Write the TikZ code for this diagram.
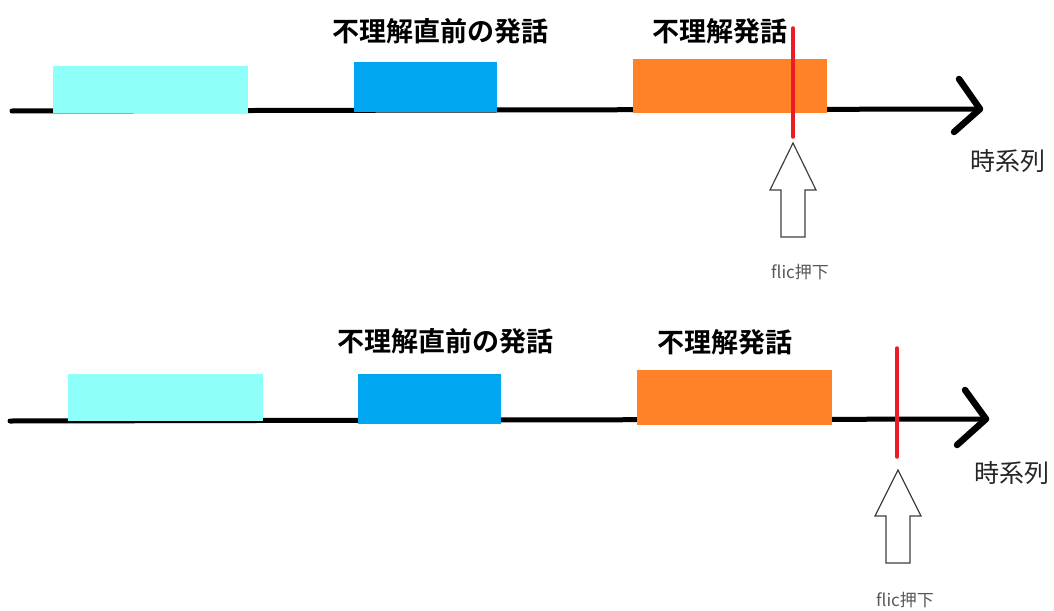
\documentclass[tikz,border=0pt]{standalone}
\usepackage{fontspec}
\setmainfont{Noto Sans CJK JP}[BoldFont={Noto Sans CJK JP Bold}]
\definecolor{cyanbox}{HTML}{8FFFF9}
\definecolor{bluebox}{HTML}{00A6EF}
\definecolor{orangebox}{HTML}{FF8228}
\definecolor{redmark}{HTML}{ED1C24}
\definecolor{graytext}{HTML}{595959}
\definecolor{arrowline}{HTML}{404040}
\tikzset{
  axisline/.style={line width=5pt, black, line cap=round, line join=round},
  chevron/.style={line width=6.5pt, black, line cap=round, line join=round},
  seg/.style={draw=none, inner sep=0pt, anchor=south west},
  redbar/.style={line width=3.5pt, redmark, line cap=round},
  hollow/.style={draw=arrowline, line width=1.2pt, fill=white, line join=miter},
  lbl/.style={font=\bfseries\fontsize{27}{31}\selectfont, inner sep=0pt},
  axislbl/.style={font=\fontsize{25}{29}\selectfont, inner sep=0pt, text=black!85},
  flic/.style={font=\fontsize{17}{20}\selectfont, inner sep=0pt, text=graytext}
}
\begin{document}
\begin{tikzpicture}[x=1pt, y=-1pt]
\path[use as bounding box, fill=white] (0,0) rectangle (1054,610);

% ---------- top timeline ----------
\coordinate (a1s) at (12,111);
\coordinate (a1t) at (980,109);
\coordinate (a1u) at (959,79);
\coordinate (a1d) at (954,132);
\draw[axisline] (a1s) -- (a1t);
\draw[chevron] (a1u) -- (a1t) -- (a1d);

\node[seg, fill=cyanbox, minimum width=195pt, minimum height=47pt] (c1) at (53,113) {};
\node[seg, fill=bluebox, minimum width=143pt, minimum height=50pt] (b1) at (354,112) {};
\node[seg, fill=orangebox, minimum width=194pt, minimum height=54pt] (o1) at (633,113) {};

\node[lbl] (l1a) at (440,31) {不理解直前の発話};
\node[lbl] (l1b) at (720,31) {不理解発話};

\coordinate (r1t) at (793,28);
\coordinate (r1b) at (793,137);
\draw[redbar] (r1t) -- (r1b);

\coordinate (h1) at (793,143);
\draw[hollow] (h1) -- ++(23,47) -- ++(-11,0) -- ++(0,47) -- ++(-24,0) -- ++(0,-47) -- ++(-11,0) -- cycle;

\node[axislbl] (t1) at (1008,161) {時系列};
\node[flic] (f1) at (800,272) {flic押下};

% ---------- bottom timeline ----------
\coordinate (a2s) at (10,421);
\coordinate (a2t) at (986,419);
\coordinate (a2u) at (965,390);
\coordinate (a2d) at (957,445);
\draw[axisline] (a2s) -- (a2t);
\draw[chevron] (a2u) -- (a2t) -- (a2d);

\node[seg, fill=cyanbox, minimum width=195pt, minimum height=47pt] (c2) at (68,421) {};
\node[seg, fill=bluebox, minimum width=143pt, minimum height=50pt] (b2) at (358,424) {};
\node[seg, fill=orangebox, minimum width=195pt, minimum height=55pt] (o2) at (637,425) {};

\node[lbl] (l2a) at (445,341) {不理解直前の発話};
\node[lbl] (l2b) at (725,342) {不理解発話};

\coordinate (r2t) at (897,348);
\coordinate (r2b) at (897,457);
\draw[redbar] (r2t) -- (r2b);

\coordinate (h2) at (898,470);
\draw[hollow] (h2) -- ++(23,46) -- ++(-11,0) -- ++(0,47) -- ++(-24,0) -- ++(0,-47) -- ++(-11,0) -- cycle;

\node[axislbl] (t2) at (1012,473) {時系列};
\node[flic] (f2) at (905,600) {flic押下};
\end{tikzpicture}
\end{document}
